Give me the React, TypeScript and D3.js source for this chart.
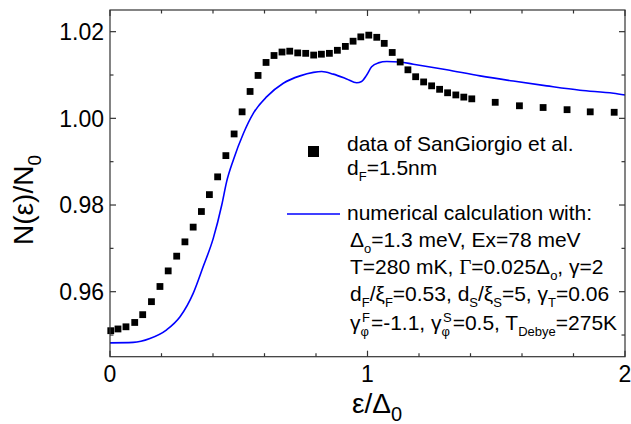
import React from 'react';
import * as d3 from 'd3';

const W = 631;
const H = 424;

// Measured data (SanGiorgio et al.)
const dataX = [0.003, 0.031, 0.062, 0.096, 0.127, 0.161, 0.194, 0.226, 0.259, 0.291, 0.323, 0.355, 0.386, 0.418, 0.45, 0.482, 0.513, 0.544, 0.575, 0.606, 0.637, 0.668, 0.698, 0.729, 0.76, 0.791, 0.821, 0.852, 0.883, 0.914, 0.944, 0.974, 1.005, 1.036, 1.065, 1.096, 1.127, 1.157, 1.187, 1.218, 1.249, 1.28, 1.311, 1.343, 1.374, 1.405, 1.496, 1.59, 1.682, 1.775, 1.865, 1.958];
const dataY = [0.951, 0.9514, 0.9519, 0.9529, 0.9547, 0.9577, 0.9612, 0.9648, 0.9682, 0.9715, 0.9749, 0.9785, 0.9824, 0.9865, 0.9914, 0.9964, 1.0015, 1.0062, 1.0099, 1.0129, 1.0145, 1.0153, 1.0155, 1.0151, 1.015, 1.0146, 1.0148, 1.015, 1.0157, 1.0166, 1.0178, 1.0188, 1.0192, 1.0187, 1.0173, 1.0152, 1.013, 1.0112, 1.0096, 1.0084, 1.0075, 1.0067, 1.0059, 1.0054, 1.0049, 1.0045, 1.0037, 1.0029, 1.0025, 1.002, 1.0015, 1.0014];

// Numerical calculation
const calcX = [0, 0.09, 0.155, 0.22, 0.272, 0.323, 0.362, 0.401, 0.434, 0.453, 0.479, 0.518, 0.557, 0.609, 0.673, 0.738, 0.79, 0.822, 0.867, 0.919, 0.958, 0.977, 0.997, 1.016, 1.042, 1.075, 1.126, 1.178, 1.308, 1.437, 1.566, 1.696, 1.825, 1.955, 2.0];
const calcY = [0.9482, 0.9483, 0.9492, 0.9512, 0.9542, 0.9596, 0.9658, 0.9723, 0.98, 0.9854, 0.9904, 0.9965, 1.0012, 1.005, 1.0081, 1.0098, 1.0106, 1.0108, 1.0102, 1.0091, 1.0082, 1.0085, 1.01, 1.0119, 1.0128, 1.0131, 1.013, 1.0125, 1.0112, 1.0098, 1.0086, 1.0075, 1.0065, 1.0058, 1.0054];

const xMajorTicks = [0, 1, 2];
const yMajorTicks = [0.96, 0.98, 1.0, 1.02];
const xDomain = [0, 2];
const yDomain = [0.945, 1.025];

const SANS = '"Liberation Sans", Arial, Helvetica, sans-serif';
const SERIF = '"Liberation Serif", "Times New Roman", serif';

export default function App() {
  const left = 110, right = 625, top = 10, bottom = 356.7;
  const x = d3.scaleLinear().domain(xDomain).range([left, right]);
  const y = d3.scaleLinear().domain(yDomain).range([bottom, top]);

  const line = d3
    .line<number>()
    .x((d) => x(d))
    .y((_, i) => y(calcY[i]))
    .curve(d3.curveMonotoneX);

  const isMajor = (v: number, majors: number[]) => majors.some((m) => Math.abs(m - v) < 1e-6);
  const xMinor = d3.range(0, 2.0001, 0.2).filter((v) => !isMajor(v, xMajorTicks));
  const yMinor = d3.range(0.95, 1.0201, 0.01).filter((v) => !isMajor(v, yMajorTicks));

  const majorLen = 6;
  const minorLen = 3.5;
  const axisColor = '#333';
  const ms = 6.8;
  const fs = 21;
  const tfs = 23;
  const sub = 13;

  const tickLines: React.ReactNode[] = [];
  xMajorTicks.concat(xMinor).forEach((v, i) => {
    const len = isMajor(v, xMajorTicks) ? majorLen : minorLen;
    tickLines.push(<line key={'xb' + i} x1={x(v)} x2={x(v)} y1={bottom} y2={bottom - len} />);
    tickLines.push(<line key={'xt' + i} x1={x(v)} x2={x(v)} y1={top} y2={top + len} />);
  });
  yMajorTicks.concat(yMinor).forEach((v, i) => {
    const len = isMajor(v, yMajorTicks) ? majorLen : minorLen;
    tickLines.push(<line key={'yl' + i} x1={left} x2={left + len} y1={y(v)} y2={y(v)} />);
    tickLines.push(<line key={'yr' + i} x1={right} x2={right - len} y1={y(v)} y2={y(v)} />);
  });

  const tx = 347;
  return (
    <svg
      width={W}
      height={H}
      viewBox={`0 0 ${W} ${H}`}
      style={{ position: 'absolute', left: 0, top: 0, background: '#fff' }}
      fontFamily={SANS}
    >
      <rect x={0} y={0} width={W} height={H} fill="#fff" />
      {/* calculation curve */}
      <path d={line(calcX) || ''} fill="none" stroke="#0000ff" strokeWidth={1.6} />
      {/* data squares */}
      {dataX.map((d, i) => (
        <rect key={'p' + i} x={x(d) - ms / 2} y={y(dataY[i]) - ms / 2} width={ms} height={ms} fill="#000" />
      ))}
      {/* frame */}
      <g stroke={axisColor} strokeWidth={1.2} fill="none">
        <rect x={left} y={top} width={right - left} height={bottom - top} />
        {tickLines}
      </g>
      {/* tick labels */}
      <g fontSize={tfs} fill="#000">
        {yMajorTicks.map((v) => (
          <text key={'ylab' + v} x={104} y={y(v) + 8.2} textAnchor="end">
            {d3.format('.2f')(v)}
          </text>
        ))}
        {xMajorTicks.map((v) => (
          <text key={'xlab' + v} x={x(v)} y={382} textAnchor="middle">
            {String(v)}
          </text>
        ))}
      </g>
      {/* axis titles */}
      <text x={377} y={413} textAnchor="middle" fontSize={28} fill="#000">
        ε/Δ<tspan fontSize={20} dy={8}>0</tspan>
      </text>
      <text transform="translate(33,200) rotate(-90)" textAnchor="middle" fontSize={28} fill="#000">
        N(ε)/N<tspan fontSize={19} dy={8}>0</tspan>
      </text>
      {/* legend */}
      <rect x={308} y={146} width={11} height={11} fill="#000" />
      <line x1={287} x2={340} y1={214} y2={214} stroke="#0000ff" strokeWidth={1.6} />
      <g fontSize={fs} fill="#000">
        <text x={tx} y={151}>data of SanGiorgio et al.</text>
        <text x={tx} y={175}>
          d<tspan fontSize={sub} dy={6}>F</tspan>
          <tspan dy={-6}>=1.5nm</tspan>
        </text>
        <text x={tx} y={220}>numerical calculation with:</text>
        <text x={350} y={247}>
          Δ<tspan fontSize={sub} dy={6}>o</tspan>
          <tspan dy={-6}>=1.3 meV, Ex=78 meV</tspan>
        </text>
        <text x={350} y={274}>
          T=280 mK, <tspan fontFamily={SERIF}>Γ</tspan>=0.025Δ<tspan fontSize={sub} dy={6}>o</tspan>
          <tspan dy={-6}>, γ=2</tspan>
        </text>
        <text x={350} y={301}>
          d<tspan fontSize={sub} dy={6}>F</tspan>
          <tspan dy={-6}>/ξ</tspan>
          <tspan fontSize={sub} dy={6}>F</tspan>
          <tspan dy={-6}>=0.53, d</tspan>
          <tspan fontSize={sub} dy={6}>S</tspan>
          <tspan dy={-6}>/ξ</tspan>
          <tspan fontSize={sub} dy={6}>S</tspan>
          <tspan dy={-6}>=5, γ</tspan>
          <tspan fontSize={sub} dy={6}>T</tspan>
          <tspan dy={-6}>=0.06</tspan>
        </text>
        <text x={350} y={330}>
          γ<tspan fontSize={sub} dy={6}>φ</tspan>
          <tspan fontSize={sub} dx={-7} dy={-14}>F</tspan>
          <tspan dx={1} dy={8}>=-1.1, γ</tspan>
          <tspan fontSize={sub} dy={6}>φ</tspan>
          <tspan fontSize={sub} dx={-7} dy={-14}>S</tspan>
          <tspan dx={1} dy={8}>=0.5, T</tspan>
          <tspan fontSize={sub} dy={6}>Debye</tspan>
          <tspan dy={-6}>=275K</tspan>
        </text>
      </g>
    </svg>
  );
}
